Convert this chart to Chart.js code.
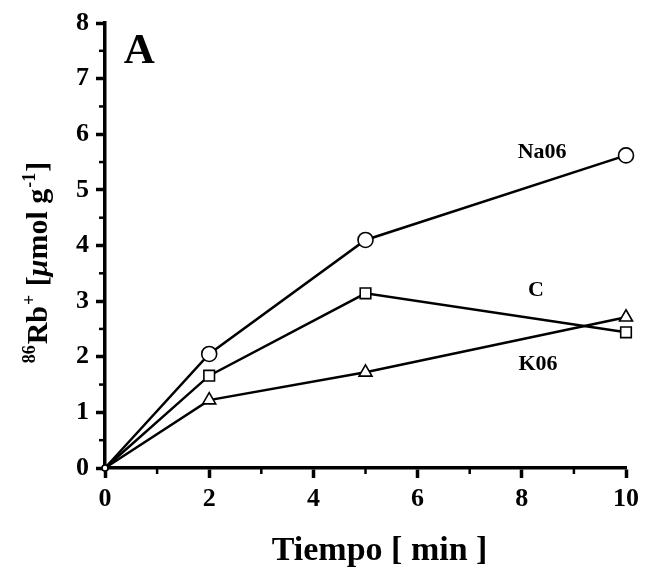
<!DOCTYPE html>
<html>
<head>
<meta charset="utf-8">
<script src="https://cdn.jsdelivr.net/npm/chart.js@4"></script>
<style>
  html, body { margin: 0; padding: 0; background: #fff; }
  #wrap { width: 649px; height: 567px; }
</style>
</head>
<body>
<div id="wrap"><canvas id="myChart" width="649" height="567"></canvas></div>
<script>
var times = [0, 2, 5, 10];
var na06 = [0, 2.05, 4.1, 5.62];
var ctrl = [0, 1.66, 3.14, 2.44];
var k06 = [0, 1.22, 1.72, 2.71];
var xTicks = [0, 2, 4, 6, 8, 10];
var yTicks = [0, 1, 2, 3, 4, 5, 6, 7, 8];
// series labels placed in data units
var seriesLabels = [
  { text: 'Na06', x: 8.39, y: 5.68 },
  { text: 'C', x: 8.27, y: 3.19 },
  { text: 'K06', x: 8.31, y: 1.86 }
];
var xTitle = 'Tiempo [ min ]';

var serif = '"Liberation Serif", "Times New Roman", serif';

function pts(vals) {
  return times.map(function (t, i) { return { x: t, y: vals[i] }; });
}

function series(label, vals, shape) {
  return {
    label: label,
    data: pts(vals),
    borderColor: '#000',
    borderWidth: 2.5,
    backgroundColor: '#fff',
    pointStyle: shape,
    pointRadius: function (c) { return c.dataIndex === 0 ? 3 : 7.5; },
    pointBorderWidth: 1.6,
    pointBorderColor: '#000',
    pointBackgroundColor: '#fff',
    tension: 0
  };
}

// minor ticks, annotations and the axis titles
var extras = {
  id: 'extras',
  afterDraw: function (chart) {
    var c = chart.ctx, xs = chart.scales.x, ys = chart.scales.y;
    c.save();
    c.strokeStyle = '#000';
    c.lineWidth = 2.5;
    // minor ticks
    for (var v = 0.5; v < 8; v += 1) {
      var py = ys.getPixelForValue(v);
      c.beginPath(); c.moveTo(ys.right - 6, py); c.lineTo(ys.right, py); c.stroke();
    }
    for (var u = 1; u < 10; u += 2) {
      var px = xs.getPixelForValue(u);
      c.beginPath(); c.moveTo(px, xs.top); c.lineTo(px, xs.top + 6); c.stroke();
    }
    // series names
    c.fillStyle = '#000';
    c.font = 'bold 22px ' + serif;
    c.textAlign = 'center';
    c.textBaseline = 'middle';
    seriesLabels.forEach(function (l) {
      c.fillText(l.text, xs.getPixelForValue(l.x), ys.getPixelForValue(l.y));
    });
    // panel letter
    c.font = 'bold 43px ' + serif;
    c.fillText('A', xs.getPixelForValue(0.66), ys.getPixelForValue(7.48));

    // x axis title
    c.font = 'bold 34px ' + serif;
    c.textBaseline = 'alphabetic';
    c.fillText(xTitle, xs.getPixelForValue(5.27), 560);

    // y axis title with superscripts
    var parts = [
      { t: '86', sup: true },
      { t: 'Rb' },
      { t: '+', sup: true },
      { t: ' [' },
      { t: '\u03bc', it: true },
      { t: 'mol g' },
      { t: '-1', sup: true },
      { t: ']' }
    ];
    var big = 30, small = 18;
    function fontOf(p) {
      return (p.it ? 'italic bold ' : 'bold ') + (p.sup ? small : big) + 'px ' + serif;
    }
    var total = 0;
    parts.forEach(function (p) { c.font = fontOf(p); p.w = c.measureText(p.t).width; total += p.w + (p.sup ? 2 : 0); });
    c.translate(37, 263);
    c.rotate(-Math.PI / 2);
    c.textAlign = 'left';
    var cx = -total / 2;
    parts.forEach(function (p) {
      c.font = fontOf(p);
      c.fillText(p.t, cx + (p.sup ? 1 : 0), p.sup ? -2 : 10);
      cx += p.w + (p.sup ? 2 : 0);
    });
    c.restore();
  }
};

var ctx = document.getElementById('myChart').getContext('2d');
var myChart = new Chart(ctx, {
  type: 'line',
  data: {
    datasets: [
      series('Na06', na06, 'circle'),
      series('C', ctrl, 'rect'),
      series('K06', k06, 'triangle')
    ]
  },
  options: {
    responsive: false,
    animation: false,
    clip: false,
    layout: { padding: { left: 0, right: 23, top: 23, bottom: 0 } },
    plugins: {
      legend: { display: false },
      tooltip: { enabled: false }
    },
    scales: {
      x: {
        type: 'linear',
        min: 0,
        max: 10,
        afterFit: function (s) { s.height = 99; },
        afterBuildTicks: function (s) { s.ticks = xTicks.map(function (v) { return { value: v }; }); },
        border: { color: '#000', width: 3.5 },
        grid: { drawOnChartArea: false, drawTicks: true, tickLength: 10, tickWidth: 3.5, tickColor: '#000' },
        ticks: { color: '#000', padding: 6, font: { family: serif, size: 26, weight: 'bold' } }
      },
      y: {
        type: 'linear',
        min: 0,
        max: 8,
        afterFit: function (s) { s.width = 105; },
        afterBuildTicks: function (s) { s.ticks = yTicks.map(function (v) { return { value: v }; }); },
        border: { color: '#000', width: 3.5 },
        grid: { drawOnChartArea: false, drawTicks: true, tickLength: 9, tickWidth: 3.5, tickColor: '#000' },
        ticks: { color: '#000', padding: 7, font: { family: serif, size: 26, weight: 'bold' } }
      }
    }
  },
  plugins: [extras]
});
</script>
</body>
</html>
